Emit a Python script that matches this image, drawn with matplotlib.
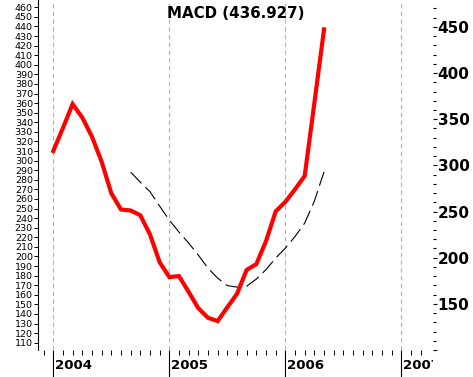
#!/usr/bin/env python3

import matplotlib
matplotlib.use('Agg')
import matplotlib.pyplot as plt
import numpy as np
from matplotlib.transforms import Bbox, TransformedBbox

# monthly values, month 0 = Jan 2004
macd = [310, 334, 359, 345, 325, 299, 266, 249, 248, 243, 223, 194,
        178.5, 179.5, 163, 146, 136, 132.6, 147, 161, 186, 192, 216, 247,
        257, 270, 284, 360, 436.927]
signal = [288, 277.5, 267.6, 252.5, 238, 225.4, 214, 201.4, 187.8, 177.4,
          169.6, 168, 169, 176.4, 186.3, 198.3, 208.7, 220.8, 234.8, 257.7, 288.3]
signal_start = 8
years = [2004, 2005, 2006, 2007]
title = "MACD (436.927)"

W, H = 473, 377
fig = plt.figure(figsize=(W / 100, H / 100), dpi=100)
ax = fig.add_axes([38 / W, 27 / H, (433 - 38) / W, 350 / H])

months = np.arange(len(macd))
sig_months = np.arange(signal_start, signal_start + len(signal))

ax.plot(months, macd, color='#ff0000', lw=3.0, solid_joinstyle='miter', zorder=3)
ax.plot(sig_months, signal, color='black', lw=0.8, dashes=(14, 5), zorder=2)

ax.set_xlim(-1.58, 39.27)
ax.set_ylim(102.4, 467.6)

# year grid lines
year_pos = [12 * i for i in range(len(years))]
for m in year_pos:
    ax.axvline(m, color='#b4b4b4', lw=0.8, dashes=(4, 3), zorder=1)

# left axis
ax.set_yticks(np.arange(110, 461, 10))
ax.tick_params(axis='y', which='major', direction='out', length=3.2, width=0.7,
               pad=0.5, labelsize=6.8)
for s in ['top', 'right', 'bottom']:
    ax.spines[s].set_visible(False)
ax.spines['left'].set_linewidth(0.8)

# x axis: long year ticks, short month ticks
ax.set_xticks(year_pos)
ax.set_xticklabels([])
ax.set_xticks([m for m in range(-1, 39) if m % 12 != 0], minor=True)
ax.tick_params(axis='x', which='major', direction='out', length=19.5, width=0.8)
ax.tick_params(axis='x', which='minor', direction='out', length=3.5, width=0.7)

clip = TransformedBbox(Bbox([[0, 0], [433 / W, 1]]), fig.transFigure)
for m, yr in zip(year_pos, years):
    t = ax.annotate(str(yr), xy=(m, 0), xycoords=('data', 'axes fraction'),
                    xytext=(1.3, -11.5), textcoords='offset points',
                    ha='left', va='center', fontsize=9.6, fontweight='bold',
                    annotation_clip=False)
    t.set_clip_box(clip)
    t.set_clip_on(True)

# right axis
ax2 = ax.twinx()
ax2.set_ylim(100.4, 479.2)
ax2.set_yticks(np.arange(100, 451, 50))
ax2.set_yticklabels([''] + [str(v) for v in range(150, 451, 50)])
ax2.set_yticks([v for v in range(110, 471, 10) if v % 50 != 0], minor=True)
ax2.tick_params(axis='y', which='major', direction='out', length=3.0, width=0.8,
                pad=0.3, labelsize=11)
ax2.tick_params(axis='y', which='minor', direction='out', length=2.0, width=0.8)
for lbl in ax2.get_yticklabels():
    lbl.set_fontweight('bold')
for s in ['top', 'right', 'bottom', 'left']:
    ax2.spines[s].set_visible(False)

fig.text(236 / W, 1 - 13 / H, title, ha='center', va='center',
         fontsize=10.8, fontweight='bold')

fig.savefig('out.png', dpi=100)
